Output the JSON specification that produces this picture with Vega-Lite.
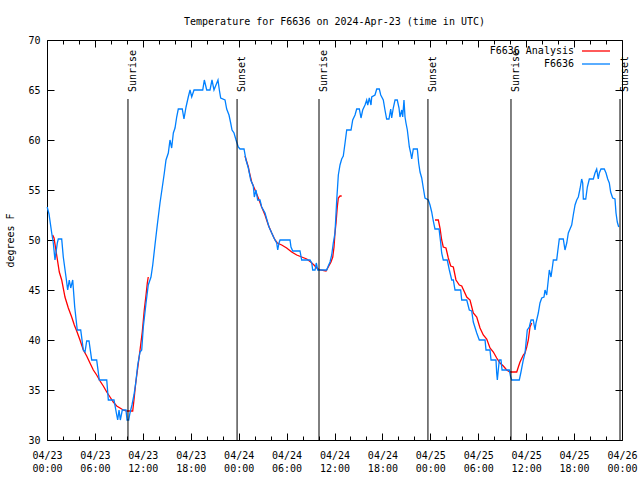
{
"$schema":"https://vega.github.io/schema/vega-lite/v6.json",
"width":575,"height":400,
"autosize":{"type":"none"},
"padding":{"left":47,"top":40,"right":18,"bottom":40},
"background":"white",
"config":{
 "font":"DejaVu Sans Mono",
 "view":{"stroke":"black","strokeWidth":1},
 "axis":{"domain":false,"grid":false,"labelFont":"DejaVu Sans Mono","labelFontSize":10,"labelColor":"black","tickColor":"black","tickWidth":1,"titleFont":"DejaVu Sans Mono","titleFontSize":10,"titleFontWeight":"normal","titleColor":"black"}
},
"title":{"text":"Temperature for F6636 on 2024-Apr-23 (time in UTC)","fontSize":10,"fontWeight":"normal","font":"DejaVu Sans Mono","color":"black","anchor":"middle","frame":"group","offset":8},
"datasets":{
"sun":[{"h":10.14,"e":"Sunrise"},{"h":23.8,"e":"Sunset"},{"h":34.06,"e":"Sunrise"},{"h":47.7,"e":"Sunset"},{"h":58.1,"e":"Sunrise"},{"h":71.75,"e":"Sunset"}],
"temp":[
{"s":"F6636 Analysis","g":1,"h":0.71,"t":50.5},{"s":"F6636 Analysis","g":1,"h":0.88,"t":50.2},{"s":"F6636 Analysis","g":1,"h":1.21,"t":48.5},{"s":"F6636 Analysis","g":1,"h":1.54,"t":46.8},{"s":"F6636 Analysis","g":1,"h":1.84,"t":46},{"s":"F6636 Analysis","g":1,"h":2.25,"t":44.3},{"s":"F6636 Analysis","g":1,"h":2.67,"t":43.2},{"s":"F6636 Analysis","g":1,"h":3.09,"t":42.3},{"s":"F6636 Analysis","g":1,"h":3.42,"t":41.5},{"s":"F6636 Analysis","g":1,"h":3.72,"t":40.9},{"s":"F6636 Analysis","g":1,"h":4.13,"t":40},{"s":"F6636 Analysis","g":1,"h":4.55,"t":39},{"s":"F6636 Analysis","g":1,"h":4.97,"t":38.4},{"s":"F6636 Analysis","g":1,"h":5.38,"t":37.7},{"s":"F6636 Analysis","g":1,"h":5.8,"t":37},{"s":"F6636 Analysis","g":1,"h":6.22,"t":36.5},{"s":"F6636 Analysis","g":1,"h":6.64,"t":35.9},{"s":"F6636 Analysis","g":1,"h":7.05,"t":35.4},{"s":"F6636 Analysis","g":1,"h":7.48,"t":34.8},{"s":"F6636 Analysis","g":1,"h":7.89,"t":34.3},{"s":"F6636 Analysis","g":1,"h":8.3,"t":33.8},{"s":"F6636 Analysis","g":1,"h":8.73,"t":33.4},{"s":"F6636 Analysis","g":1,"h":9.14,"t":33.2},{"s":"F6636 Analysis","g":1,"h":9.55,"t":33},{"s":"F6636 Analysis","g":1,"h":9.98,"t":32.9},{"s":"F6636 Analysis","g":1,"h":10.73,"t":32.9},{"s":"F6636 Analysis","g":1,"h":10.89,"t":34},{"s":"F6636 Analysis","g":1,"h":11.11,"t":35.7},{"s":"F6636 Analysis","g":1,"h":11.36,"t":37.2},{"s":"F6636 Analysis","g":1,"h":11.65,"t":39},{"s":"F6636 Analysis","g":1,"h":11.93,"t":40.8},{"s":"F6636 Analysis","g":1,"h":12.18,"t":43},{"s":"F6636 Analysis","g":1,"h":12.4,"t":44.5},{"s":"F6636 Analysis","g":1,"h":12.56,"t":45.7},{"s":"F6636 Analysis","g":1,"h":12.68,"t":46.3},
{"s":"F6636 Analysis","g":2,"h":24.79,"t":58.4},{"s":"F6636 Analysis","g":2,"h":25.21,"t":57.3},{"s":"F6636 Analysis","g":2,"h":25.33,"t":56.8},{"s":"F6636 Analysis","g":2,"h":25.63,"t":55.8},{"s":"F6636 Analysis","g":2,"h":26.05,"t":55},{"s":"F6636 Analysis","g":2,"h":26.46,"t":54.2},{"s":"F6636 Analysis","g":2,"h":26.88,"t":53.3},{"s":"F6636 Analysis","g":2,"h":27.3,"t":52.5},{"s":"F6636 Analysis","g":2,"h":27.71,"t":51.5},{"s":"F6636 Analysis","g":2,"h":28.14,"t":50.7},{"s":"F6636 Analysis","g":2,"h":28.55,"t":50},{"s":"F6636 Analysis","g":2,"h":28.84,"t":49.7},{"s":"F6636 Analysis","g":2,"h":29.39,"t":49.5},{"s":"F6636 Analysis","g":2,"h":30.01,"t":49.2},{"s":"F6636 Analysis","g":2,"h":30.64,"t":48.8},{"s":"F6636 Analysis","g":2,"h":31.27,"t":48.5},{"s":"F6636 Analysis","g":2,"h":31.89,"t":48.3},{"s":"F6636 Analysis","g":2,"h":32.52,"t":48.1},{"s":"F6636 Analysis","g":2,"h":33.02,"t":47.8},{"s":"F6636 Analysis","g":2,"h":33.43,"t":47.5},{"s":"F6636 Analysis","g":2,"h":33.77,"t":47.2},{"s":"F6636 Analysis","g":2,"h":34.19,"t":47},{"s":"F6636 Analysis","g":2,"h":34.94,"t":46.9},{"s":"F6636 Analysis","g":2,"h":35.22,"t":47.3},{"s":"F6636 Analysis","g":2,"h":35.56,"t":47.8},{"s":"F6636 Analysis","g":2,"h":35.78,"t":48.3},{"s":"F6636 Analysis","g":2,"h":35.94,"t":49.3},{"s":"F6636 Analysis","g":2,"h":36.06,"t":50.7},{"s":"F6636 Analysis","g":2,"h":36.19,"t":51.7},{"s":"F6636 Analysis","g":2,"h":36.35,"t":53.3},{"s":"F6636 Analysis","g":2,"h":36.48,"t":54.2},{"s":"F6636 Analysis","g":2,"h":36.69,"t":54.4},{"s":"F6636 Analysis","g":2,"h":36.9,"t":54.4},
{"s":"F6636 Analysis","g":3,"h":48.58,"t":52},{"s":"F6636 Analysis","g":3,"h":49.0,"t":52},{"s":"F6636 Analysis","g":3,"h":49.21,"t":51.2},{"s":"F6636 Analysis","g":3,"h":49.42,"t":50},{"s":"F6636 Analysis","g":3,"h":49.62,"t":49.3},{"s":"F6636 Analysis","g":3,"h":49.96,"t":49.2},{"s":"F6636 Analysis","g":3,"h":50.25,"t":48.2},{"s":"F6636 Analysis","g":3,"h":50.55,"t":47.4},{"s":"F6636 Analysis","g":3,"h":50.88,"t":47.3},{"s":"F6636 Analysis","g":3,"h":51.21,"t":46},{"s":"F6636 Analysis","g":3,"h":51.63,"t":45.5},{"s":"F6636 Analysis","g":3,"h":51.93,"t":45.4},{"s":"F6636 Analysis","g":3,"h":52.56,"t":44.3},{"s":"F6636 Analysis","g":3,"h":52.97,"t":44},{"s":"F6636 Analysis","g":3,"h":53.38,"t":42.7},{"s":"F6636 Analysis","g":3,"h":53.81,"t":42.3},{"s":"F6636 Analysis","g":3,"h":54.22,"t":41.2},{"s":"F6636 Analysis","g":3,"h":54.63,"t":40.5},{"s":"F6636 Analysis","g":3,"h":55.06,"t":40.1},{"s":"F6636 Analysis","g":3,"h":55.47,"t":39.2},{"s":"F6636 Analysis","g":3,"h":55.89,"t":38.8},{"s":"F6636 Analysis","g":3,"h":56.31,"t":38.2},{"s":"F6636 Analysis","g":3,"h":56.72,"t":37.7},{"s":"F6636 Analysis","g":3,"h":57.14,"t":37.4},{"s":"F6636 Analysis","g":3,"h":57.56,"t":37},{"s":"F6636 Analysis","g":3,"h":57.98,"t":36.8},{"s":"F6636 Analysis","g":3,"h":58.82,"t":36.8},{"s":"F6636 Analysis","g":3,"h":59.02,"t":37.3},{"s":"F6636 Analysis","g":3,"h":59.23,"t":37.8},{"s":"F6636 Analysis","g":3,"h":59.64,"t":38.5},{"s":"F6636 Analysis","g":3,"h":59.86,"t":38.7},{"s":"F6636 Analysis","g":3,"h":60.07,"t":39.3},{"s":"F6636 Analysis","g":3,"h":60.27,"t":40},{"s":"F6636 Analysis","g":3,"h":60.48,"t":41.3},{"s":"F6636 Analysis","g":3,"h":60.69,"t":41.7},
{"s":"F6636","g":0,"h":0.02,"t":53.3},{"s":"F6636","g":0,"h":0.25,"t":52.6},{"s":"F6636","g":0,"h":0.59,"t":50.7},{"s":"F6636","g":0,"h":0.79,"t":49.7},{"s":"F6636","g":0,"h":1.0,"t":48.0},{"s":"F6636","g":0,"h":1.29,"t":49.7},{"s":"F6636","g":0,"h":1.41,"t":50.1},{"s":"F6636","g":0,"h":1.84,"t":50.1},{"s":"F6636","g":0,"h":2.04,"t":48.3},{"s":"F6636","g":0,"h":2.38,"t":46.3},{"s":"F6636","g":0,"h":2.59,"t":45},{"s":"F6636","g":0,"h":2.79,"t":46},{"s":"F6636","g":0,"h":2.97,"t":45.2},{"s":"F6636","g":0,"h":3.22,"t":46},{"s":"F6636","g":0,"h":3.47,"t":43.3},{"s":"F6636","g":0,"h":3.72,"t":41.5},{"s":"F6636","g":0,"h":3.79,"t":41},{"s":"F6636","g":0,"h":4.22,"t":41},{"s":"F6636","g":0,"h":4.55,"t":39},{"s":"F6636","g":0,"h":4.76,"t":38.8},{"s":"F6636","g":0,"h":4.97,"t":39.9},{"s":"F6636","g":0,"h":5.26,"t":39.9},{"s":"F6636","g":0,"h":5.6,"t":38},{"s":"F6636","g":0,"h":6.22,"t":38},{"s":"F6636","g":0,"h":6.55,"t":36},{"s":"F6636","g":0,"h":7.48,"t":36},{"s":"F6636","g":0,"h":7.68,"t":34},{"s":"F6636","g":0,"h":8.39,"t":34},{"s":"F6636","g":0,"h":8.73,"t":32.5},{"s":"F6636","g":0,"h":8.85,"t":32},{"s":"F6636","g":0,"h":9.02,"t":33},{"s":"F6636","g":0,"h":9.18,"t":32},{"s":"F6636","g":0,"h":9.43,"t":33},{"s":"F6636","g":0,"h":9.89,"t":33},{"s":"F6636","g":0,"h":10.02,"t":32},{"s":"F6636","g":0,"h":10.23,"t":32},{"s":"F6636","g":0,"h":10.39,"t":32.7},{"s":"F6636","g":0,"h":10.64,"t":33.5},{"s":"F6636","g":0,"h":10.89,"t":34.5},{"s":"F6636","g":0,"h":11.11,"t":35.7},{"s":"F6636","g":0,"h":11.36,"t":37.5},{"s":"F6636","g":0,"h":11.65,"t":38.8},{"s":"F6636","g":0,"h":11.86,"t":39},{"s":"F6636","g":0,"h":12.06,"t":41.3},{"s":"F6636","g":0,"h":12.4,"t":43.7},{"s":"F6636","g":0,"h":12.68,"t":45.5},{"s":"F6636","g":0,"h":13.02,"t":46.3},{"s":"F6636","g":0,"h":13.24,"t":47.5},{"s":"F6636","g":0,"h":13.52,"t":49.5},{"s":"F6636","g":0,"h":13.81,"t":51.5},{"s":"F6636","g":0,"h":14.15,"t":53.7},{"s":"F6636","g":0,"h":14.44,"t":55.3},{"s":"F6636","g":0,"h":14.69,"t":56.7},{"s":"F6636","g":0,"h":14.9,"t":58},{"s":"F6636","g":0,"h":15.19,"t":58.7},{"s":"F6636","g":0,"h":15.4,"t":60},{"s":"F6636","g":0,"h":15.61,"t":59.2},{"s":"F6636","g":0,"h":15.82,"t":60.7},{"s":"F6636","g":0,"h":16.03,"t":61.2},{"s":"F6636","g":0,"h":16.24,"t":62.3},{"s":"F6636","g":0,"h":16.44,"t":63.1},{"s":"F6636","g":0,"h":16.94,"t":63.1},{"s":"F6636","g":0,"h":17.15,"t":62.1},{"s":"F6636","g":0,"h":17.41,"t":63.3},{"s":"F6636","g":0,"h":17.69,"t":64.3},{"s":"F6636","g":0,"h":17.91,"t":65},{"s":"F6636","g":0,"h":18.12,"t":64.3},{"s":"F6636","g":0,"h":18.41,"t":65},{"s":"F6636","g":0,"h":19.5,"t":65},{"s":"F6636","g":0,"h":19.7,"t":66},{"s":"F6636","g":0,"h":20.0,"t":65},{"s":"F6636","g":0,"h":20.41,"t":65},{"s":"F6636","g":0,"h":20.66,"t":66},{"s":"F6636","g":0,"h":20.91,"t":65},{"s":"F6636","g":0,"h":21.16,"t":65.5},{"s":"F6636","g":0,"h":21.41,"t":66},{"s":"F6636","g":0,"h":21.58,"t":65},{"s":"F6636","g":0,"h":21.75,"t":64.2},{"s":"F6636","g":0,"h":22.29,"t":64},{"s":"F6636","g":0,"h":22.5,"t":63.1},{"s":"F6636","g":0,"h":22.79,"t":62.5},{"s":"F6636","g":0,"h":23.0,"t":61.7},{"s":"F6636","g":0,"h":23.17,"t":61},{"s":"F6636","g":0,"h":23.42,"t":60.7},{"s":"F6636","g":0,"h":23.67,"t":60},{"s":"F6636","g":0,"h":23.95,"t":59.3},{"s":"F6636","g":0,"h":24.17,"t":59.1},{"s":"F6636","g":0,"h":24.67,"t":59.1},{"s":"F6636","g":0,"h":24.92,"t":58},{"s":"F6636","g":0,"h":25.21,"t":57.2},{"s":"F6636","g":0,"h":25.51,"t":56},{"s":"F6636","g":0,"h":25.83,"t":55.4},{"s":"F6636","g":0,"h":25.96,"t":54.3},{"s":"F6636","g":0,"h":26.17,"t":55},{"s":"F6636","g":0,"h":26.38,"t":54},{"s":"F6636","g":0,"h":26.67,"t":54},{"s":"F6636","g":0,"h":26.88,"t":53.3},{"s":"F6636","g":0,"h":27.3,"t":52.7},{"s":"F6636","g":0,"h":27.51,"t":52.1},{"s":"F6636","g":0,"h":27.8,"t":51.3},{"s":"F6636","g":0,"h":28.14,"t":50.7},{"s":"F6636","g":0,"h":28.42,"t":50.2},{"s":"F6636","g":0,"h":28.76,"t":49.7},{"s":"F6636","g":0,"h":28.89,"t":49},{"s":"F6636","g":0,"h":29.05,"t":49.7},{"s":"F6636","g":0,"h":29.18,"t":50},{"s":"F6636","g":0,"h":30.43,"t":50},{"s":"F6636","g":0,"h":30.55,"t":49.3},{"s":"F6636","g":0,"h":30.77,"t":48.9},{"s":"F6636","g":0,"h":31.68,"t":48.9},{"s":"F6636","g":0,"h":31.89,"t":48},{"s":"F6636","g":0,"h":32.93,"t":48},{"s":"F6636","g":0,"h":33.15,"t":47.7},{"s":"F6636","g":0,"h":33.27,"t":47},{"s":"F6636","g":0,"h":33.56,"t":47},{"s":"F6636","g":0,"h":33.72,"t":47.7},{"s":"F6636","g":0,"h":33.9,"t":47},{"s":"F6636","g":0,"h":35.02,"t":47},{"s":"F6636","g":0,"h":35.22,"t":47.4},{"s":"F6636","g":0,"h":35.44,"t":47.8},{"s":"F6636","g":0,"h":35.65,"t":48.5},{"s":"F6636","g":0,"h":35.85,"t":49.7},{"s":"F6636","g":0,"h":36.06,"t":50.7},{"s":"F6636","g":0,"h":36.28,"t":54},{"s":"F6636","g":0,"h":36.48,"t":56.5},{"s":"F6636","g":0,"h":36.69,"t":57.5},{"s":"F6636","g":0,"h":36.9,"t":58.1},{"s":"F6636","g":0,"h":37.1,"t":58.4},{"s":"F6636","g":0,"h":37.32,"t":59.7},{"s":"F6636","g":0,"h":37.53,"t":61},{"s":"F6636","g":0,"h":38.07,"t":61},{"s":"F6636","g":0,"h":38.28,"t":62},{"s":"F6636","g":0,"h":38.57,"t":62.5},{"s":"F6636","g":0,"h":38.78,"t":63.1},{"s":"F6636","g":0,"h":39.11,"t":63.1},{"s":"F6636","g":0,"h":39.32,"t":62.2},{"s":"F6636","g":0,"h":39.53,"t":63},{"s":"F6636","g":0,"h":39.82,"t":63.5},{"s":"F6636","g":0,"h":40.03,"t":64},{"s":"F6636","g":0,"h":40.16,"t":63.5},{"s":"F6636","g":0,"h":40.36,"t":64.2},{"s":"F6636","g":0,"h":40.57,"t":63.5},{"s":"F6636","g":0,"h":40.66,"t":64.3},{"s":"F6636","g":0,"h":41.07,"t":64.5},{"s":"F6636","g":0,"h":41.29,"t":65.1},{"s":"F6636","g":0,"h":41.61,"t":65.1},{"s":"F6636","g":0,"h":41.79,"t":64.5},{"s":"F6636","g":0,"h":42.11,"t":64},{"s":"F6636","g":0,"h":42.32,"t":63},{"s":"F6636","g":0,"h":42.53,"t":62.1},{"s":"F6636","g":0,"h":42.82,"t":62.1},{"s":"F6636","g":0,"h":43.04,"t":63.1},{"s":"F6636","g":0,"h":43.16,"t":62.2},{"s":"F6636","g":0,"h":43.36,"t":63.2},{"s":"F6636","g":0,"h":43.58,"t":64},{"s":"F6636","g":0,"h":43.86,"t":64},{"s":"F6636","g":0,"h":44.08,"t":63.2},{"s":"F6636","g":0,"h":44.2,"t":62.3},{"s":"F6636","g":0,"h":44.42,"t":63},{"s":"F6636","g":0,"h":44.54,"t":62.3},{"s":"F6636","g":0,"h":44.7,"t":64},{"s":"F6636","g":0,"h":44.83,"t":62.3},{"s":"F6636","g":0,"h":44.95,"t":61.7},{"s":"F6636","g":0,"h":45.12,"t":61},{"s":"F6636","g":0,"h":45.24,"t":60.2},{"s":"F6636","g":0,"h":45.37,"t":59.3},{"s":"F6636","g":0,"h":45.54,"t":58.7},{"s":"F6636","g":0,"h":45.67,"t":58.1},{"s":"F6636","g":0,"h":45.87,"t":59.1},{"s":"F6636","g":0,"h":46.37,"t":59.1},{"s":"F6636","g":0,"h":46.54,"t":57.7},{"s":"F6636","g":0,"h":46.71,"t":56.8},{"s":"F6636","g":0,"h":46.92,"t":56.2},{"s":"F6636","g":0,"h":47.12,"t":55.2},{"s":"F6636","g":0,"h":47.33,"t":54.2},{"s":"F6636","g":0,"h":47.75,"t":54},{"s":"F6636","g":0,"h":47.96,"t":53.5},{"s":"F6636","g":0,"h":48.17,"t":52.8},{"s":"F6636","g":0,"h":48.37,"t":51.9},{"s":"F6636","g":0,"h":48.58,"t":51.1},{"s":"F6636","g":0,"h":49.09,"t":51.1},{"s":"F6636","g":0,"h":49.3,"t":49.7},{"s":"F6636","g":0,"h":49.42,"t":48.7},{"s":"F6636","g":0,"h":49.62,"t":48},{"s":"F6636","g":0,"h":50.12,"t":48},{"s":"F6636","g":0,"h":50.38,"t":47},{"s":"F6636","g":0,"h":50.68,"t":46},{"s":"F6636","g":0,"h":50.88,"t":46},{"s":"F6636","g":0,"h":51.09,"t":45},{"s":"F6636","g":0,"h":51.8,"t":45},{"s":"F6636","g":0,"h":51.93,"t":44},{"s":"F6636","g":0,"h":52.56,"t":44},{"s":"F6636","g":0,"h":52.88,"t":43},{"s":"F6636","g":0,"h":53.18,"t":42.9},{"s":"F6636","g":0,"h":53.38,"t":41.8},{"s":"F6636","g":0,"h":53.81,"t":40.7},{"s":"F6636","g":0,"h":54.13,"t":40},{"s":"F6636","g":0,"h":54.85,"t":40},{"s":"F6636","g":0,"h":54.97,"t":39},{"s":"F6636","g":0,"h":55.47,"t":39},{"s":"F6636","g":0,"h":55.6,"t":38},{"s":"F6636","g":0,"h":56.22,"t":38},{"s":"F6636","g":0,"h":56.31,"t":36.7},{"s":"F6636","g":0,"h":56.39,"t":36},{"s":"F6636","g":0,"h":56.51,"t":37},{"s":"F6636","g":0,"h":56.64,"t":38},{"s":"F6636","g":0,"h":56.85,"t":38},{"s":"F6636","g":0,"h":56.98,"t":37},{"s":"F6636","g":0,"h":57.89,"t":37},{"s":"F6636","g":0,"h":58.06,"t":36.3},{"s":"F6636","g":0,"h":58.19,"t":36},{"s":"F6636","g":0,"h":59.14,"t":36},{"s":"F6636","g":0,"h":59.35,"t":36.8},{"s":"F6636","g":0,"h":59.64,"t":38},{"s":"F6636","g":0,"h":59.86,"t":38.7},{"s":"F6636","g":0,"h":59.98,"t":39.7},{"s":"F6636","g":0,"h":60.14,"t":41},{"s":"F6636","g":0,"h":60.39,"t":41.3},{"s":"F6636","g":0,"h":60.61,"t":42},{"s":"F6636","g":0,"h":60.89,"t":42},{"s":"F6636","g":0,"h":61.11,"t":41},{"s":"F6636","g":0,"h":61.23,"t":41.7},{"s":"F6636","g":0,"h":61.52,"t":42.7},{"s":"F6636","g":0,"h":61.73,"t":43.7},{"s":"F6636","g":0,"h":61.95,"t":44.2},{"s":"F6636","g":0,"h":62.23,"t":44.3},{"s":"F6636","g":0,"h":62.36,"t":45},{"s":"F6636","g":0,"h":62.57,"t":44.5},{"s":"F6636","g":0,"h":62.77,"t":46},{"s":"F6636","g":0,"h":62.9,"t":47},{"s":"F6636","g":0,"h":63.11,"t":46.3},{"s":"F6636","g":0,"h":63.32,"t":47.5},{"s":"F6636","g":0,"h":63.4,"t":48},{"s":"F6636","g":0,"h":63.82,"t":48},{"s":"F6636","g":0,"h":64.02,"t":49.3},{"s":"F6636","g":0,"h":64.15,"t":50.1},{"s":"F6636","g":0,"h":64.65,"t":50.1},{"s":"F6636","g":0,"h":64.86,"t":49},{"s":"F6636","g":0,"h":65.08,"t":49.7},{"s":"F6636","g":0,"h":65.28,"t":50.7},{"s":"F6636","g":0,"h":65.49,"t":51.1},{"s":"F6636","g":0,"h":65.7,"t":51.5},{"s":"F6636","g":0,"h":65.9,"t":52.5},{"s":"F6636","g":0,"h":66.12,"t":53.5},{"s":"F6636","g":0,"h":66.33,"t":54},{"s":"F6636","g":0,"h":66.53,"t":54.3},{"s":"F6636","g":0,"h":66.74,"t":55.1},{"s":"F6636","g":0,"h":66.95,"t":56.1},{"s":"F6636","g":0,"h":67.08,"t":55.7},{"s":"F6636","g":0,"h":67.16,"t":54.1},{"s":"F6636","g":0,"h":67.46,"t":54.1},{"s":"F6636","g":0,"h":67.66,"t":55.3},{"s":"F6636","g":0,"h":67.91,"t":56.1},{"s":"F6636","g":0,"h":68.41,"t":56.1},{"s":"F6636","g":0,"h":68.62,"t":56.7},{"s":"F6636","g":0,"h":68.83,"t":57.1},{"s":"F6636","g":0,"h":69.03,"t":56.1},{"s":"F6636","g":0,"h":69.16,"t":56.7},{"s":"F6636","g":0,"h":69.37,"t":57.1},{"s":"F6636","g":0,"h":69.78,"t":57.1},{"s":"F6636","g":0,"h":70.0,"t":56.7},{"s":"F6636","g":0,"h":70.21,"t":56.1},{"s":"F6636","g":0,"h":70.41,"t":55.7},{"s":"F6636","g":0,"h":70.58,"t":54.8},{"s":"F6636","g":0,"h":70.83,"t":54.2},{"s":"F6636","g":0,"h":71.12,"t":54.1},{"s":"F6636","g":0,"h":71.25,"t":52.7},{"s":"F6636","g":0,"h":71.41,"t":51.8},{"s":"F6636","g":0,"h":71.59,"t":51.3}
]},
"layer":[
 {"data":{"name":"temp"},
  "mark":{"type":"line","strokeWidth":1.3,"interpolate":"linear"},
  "encoding":{
   "x":{"field":"h","type":"quantitative","scale":{"domain":[0,72],"nice":false,"zero":false},
        "axis":{"orient":"bottom","title":null,"values":[0,2,4,6,8,10,12,14,16,18,20,22,24,26,28,30,32,34,36,38,40,42,44,46,48,50,52,54,56,58,60,62,64,66,68,70,72],
                "tickSize":{"condition":{"test":"datum.value % 6 === 0","value":-7},"value":-4},
                "labelExpr":"datum.value % 6 === 0 ? ['04/' + (23 + floor(datum.value / 24)), (datum.value % 24 < 10 ? '0' : '') + (datum.value % 24) + ':00'] : ''",
                "labelPadding":17,"labelLineHeight":13,"labelFlush":false,"labelOverlap":false,"labelBound":false}},
   "y":{"field":"t","type":"quantitative","scale":{"domain":[30,70],"nice":false,"zero":false},
        "axis":{"orient":"left","title":"degrees F","values":[30,35,40,45,50,55,60,65,70],"tickSize":-7,"labelPadding":14,"titlePadding":12}},
   "color":{"field":"s","type":"nominal","scale":{"domain":["F6636 Analysis","F6636"],"range":["#ff0000","#0080ff"]},
            "legend":{"orient":"none","legendX":541,"legendY":3,"title":null,"symbolType":"M-2,0H2","symbolSize":196,"symbolStrokeWidth":1.3,"labelAlign":"right","labelOffset":-30,"labelFont":"DejaVu Sans Mono","labelFontSize":10,"labelColor":"black","padding":0,"rowPadding":0}},
   "detail":{"field":"g","type":"nominal"}
  }},
 {"data":{"name":"sun"},
  "mark":{"type":"rule","color":"black","strokeWidth":1},
  "encoding":{
   "x":{"field":"h","type":"quantitative","axis":null},
   "y":{"datum":64.1,"type":"quantitative","axis":null},
   "y2":{"datum":30}
  }},
 {"data":{"name":"sun"},
  "mark":{"type":"text","angle":270,"align":"left","baseline":"top","fontSize":10,"font":"DejaVu Sans Mono","color":"black"},
  "encoding":{
   "x":{"field":"h","type":"quantitative",
        "axis":{"orient":"top","title":null,"labels":false,"values":[0,2,4,6,8,10,12,14,16,18,20,22,24,26,28,30,32,34,36,38,40,42,44,46,48,50,52,54,56,58,60,62,64,66,68,70,72],
                "tickSize":{"condition":{"test":"datum.value % 6 === 0","value":-7},"value":-4}}},
   "y":{"datum":64.8,"type":"quantitative","axis":{"orient":"right","title":null,"labels":false,"values":[30,35,40,45,50,55,60,65,70],"tickSize":-7}},
   "text":{"field":"e"}
  }}
],
"resolve":{"axis":{"x":"independent","y":"independent"}}
}
